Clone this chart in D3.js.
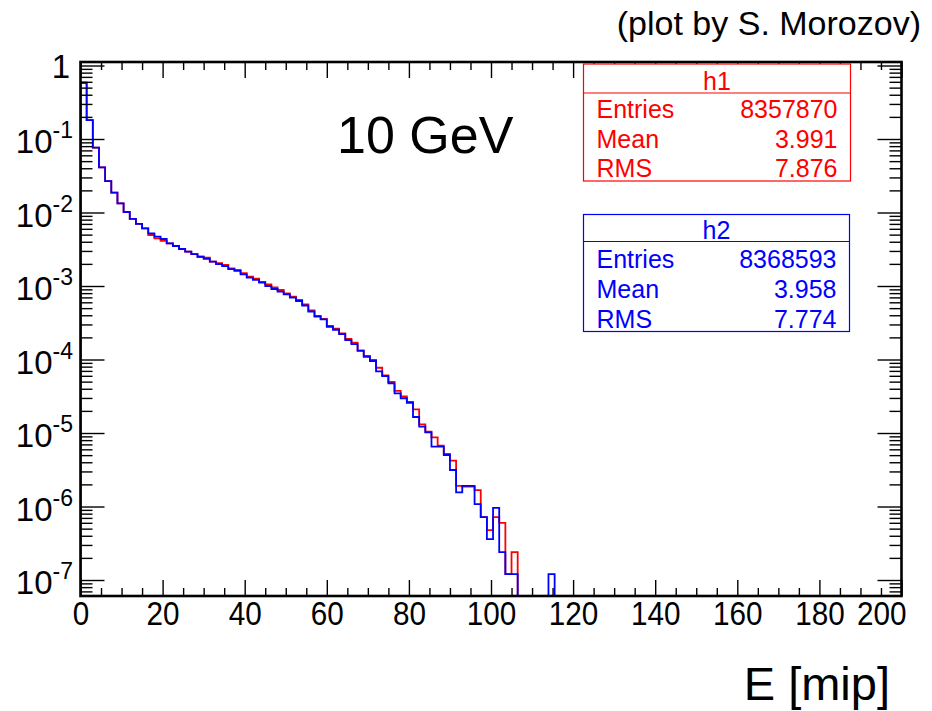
<!DOCTYPE html>
<html>
<head>
<meta charset="utf-8">
<script src="https://cdn.jsdelivr.net/npm/d3@7"></script>
<style>
  html, body { margin: 0; padding: 0; background: #fff; }
  svg { display: block; font-family: "Liberation Sans", Arial, sans-serif; }
</style>
</head>
<body>
<svg id="vis" width="932" height="711"></svg>
<script>
// bin width of both histograms (in mip), bins start at 0
const binWidth = 1.5;

// h1 (red) normalised bin contents
const h1 = [
  0.583, 0.181, 0.0761, 0.0412, 0.0268, 0.0186, 0.01334, 0.01016, 0.00821, 0.00702,
  0.00610, 0.00494, 0.00446, 0.00410, 0.00381, 0.00350, 0.00319, 0.00293, 0.00272, 0.00250,
  0.00243, 0.00214, 0.00204, 0.00193, 0.00174, 0.00165, 0.00150, 0.00134, 0.00126, 0.00114,
  0.00105, 0.000960, 0.000882, 0.000796, 0.000715, 0.000645, 0.000560, 0.000464, 0.000391, 0.000358,
  0.000286, 0.000262, 0.000226, 0.000190, 0.000169, 0.000133, 0.000112, 0.0000984, 0.0000773, 0.0000606,
  0.0000494, 0.0000375, 0.0000316, 0.0000264, 0.0000210, 0.0000131, 0.0000104, 0.00000874, 0.00000672, 0.00000518,
  0.00000420, 1.91e-6, 1.87e-6, 1.87e-6, 1.67e-6, 7.18e-7, 4.78e-7, 7.18e-7, 5.98e-7, 1.2e-7,
  2.39e-7, 0, 0, 0, 0, 0, 0
];

// h2 (blue)
const h2 = [
  0.583, 0.181, 0.0761, 0.0412, 0.0268, 0.0186, 0.01334, 0.01016, 0.00821, 0.00702,
  0.00610, 0.00521, 0.00469, 0.00436, 0.00381, 0.00350, 0.00319, 0.00293, 0.00272, 0.00250,
  0.00235, 0.00214, 0.00199, 0.00187, 0.00170, 0.00161, 0.00144, 0.00130, 0.00121, 0.00111,
  0.00100, 0.000910, 0.000837, 0.000771, 0.000693, 0.000625, 0.000543, 0.000450, 0.000385, 0.000352,
  0.000279, 0.000254, 0.000221, 0.000184, 0.000162, 0.000131, 0.000109, 0.0000954, 0.0000691, 0.0000596,
  0.0000474, 0.0000347, 0.0000297, 0.0000258, 0.0000165, 0.0000122, 0.0000102, 0.00000651, 0.00000651, 0.00000502,
  0.00000314, 1.555e-6, 1.91e-6, 1.91e-6, 1.076e-6, 7.18e-7, 3.59e-7, 9.57e-7, 2.39e-7, 1.2e-7,
  1.2e-7, 0, 0, 0, 0, 0, 1.2e-7
];

const xTicks = [0, 20, 40, 60, 80, 100, 120, 140, 160, 180, 200];
const yExponents = [0, -1, -2, -3, -4, -5, -6, -7];

const h1Stats = [["Entries", "8357870"], ["Mean", "3.991"], ["RMS", "7.876"]];
const h2Stats = [["Entries", "8368593"], ["Mean", "3.958"], ["RMS", "7.774"]];

const svg = d3.select("#vis");

const fLeft = 80.5, fRight = 901.5, fTop = 62, fBottom = 596;

const x = d3.scaleLinear().domain([0, 200]).range([fLeft, fRight]);
const y = d3.scaleLog().domain([6.06e-8, 1.116]).range([fBottom, fTop]).clamp(true);

// minor ticks
const xMinor = d3.range(0, 201, 5).filter(d => d % 20 !== 0);
const yMinor = [];
yExponents.concat([-8]).forEach(e => {
  for (let m = 2; m <= 9; m++) {
    const v = m * Math.pow(10, e);
    if (v > 6.06e-8 && v < 1.116) yMinor.push(v);
  }
});

// histogram as a step line
function histPoints(vals) {
  const pts = [[0, 0]];
  const n = Math.ceil(200 / binWidth);
  for (let i = 0; i < n; i++) {
    pts.push([i * binWidth, i < vals.length ? vals[i] : 0]);
  }
  pts.push([200, 0]);
  return pts;
}

const line = d3.line()
  .x(d => x(d[0]))
  .y(d => d[1] > 0 ? y(d[1]) : fBottom)
  .curve(d3.curveStepAfter);

svg.append("defs").append("clipPath").attr("id", "frame")
  .append("rect").attr("x", fLeft).attr("y", fTop - 2)
  .attr("width", fRight - fLeft).attr("height", fBottom - fTop + 2);

const plot = svg.append("g").attr("clip-path", "url(#frame)");

plot.append("path")
  .attr("d", line(histPoints(h1)))
  .attr("fill", "none")
  .attr("stroke", "#ff0000")
  .attr("stroke-width", 1.8);

plot.append("path")
  .attr("d", line(histPoints(h2)))
  .attr("fill", "none")
  .attr("stroke", "#0000ff")
  .attr("stroke-width", 1.8);

// axes, ticks pointing inside on all four sides
function styleAxis(g) {
  g.select(".domain").remove();
  g.selectAll(".tick line").attr("stroke", "#000").attr("stroke-width", 1.4);
}

svg.append("g").attr("transform", `translate(0,${fBottom})`)
  .call(d3.axisBottom(x).tickValues(xMinor).tickSize(-8).tickFormat(""))
  .call(styleAxis);
svg.append("g").attr("transform", `translate(0,${fBottom})`)
  .call(d3.axisBottom(x).tickValues(xTicks).tickSize(-16).tickPadding(6).tickFormat(d3.format("d")))
  .call(styleAxis)
  .call(g => g.selectAll("text")
    .attr("font-size", 33)
    .attr("font-family", "Liberation Sans, Arial, sans-serif")
    .attr("fill", "#000")
    .attr("transform", "scale(0.9,1)"))
  // the last label is pulled inside the pad, as ROOT does
  .call(g => g.selectAll(".tick").filter(d => d === 200).select("text")
    .attr("text-anchor", "end").attr("x", 5));

svg.append("g").attr("transform", `translate(0,${fTop})`)
  .call(d3.axisTop(x).tickValues(xMinor).tickSize(-8).tickFormat(""))
  .call(styleAxis);
svg.append("g").attr("transform", `translate(0,${fTop})`)
  .call(d3.axisTop(x).tickValues(xTicks).tickSize(-16).tickFormat(""))
  .call(styleAxis);

const yMajor = yExponents.map(e => Math.pow(10, e));

svg.append("g").attr("transform", `translate(${fLeft},0)`)
  .call(d3.axisLeft(y).tickValues(yMinor).tickSize(-12).tickFormat(""))
  .call(styleAxis);
svg.append("g").attr("transform", `translate(${fLeft},0)`)
  .call(d3.axisLeft(y).tickValues(yMajor).tickSize(-24).tickFormat(""))
  .call(styleAxis);
svg.append("g").attr("transform", `translate(${fRight},0)`)
  .call(d3.axisRight(y).tickValues(yMinor).tickSize(-12).tickFormat(""))
  .call(styleAxis);
svg.append("g").attr("transform", `translate(${fRight},0)`)
  .call(d3.axisRight(y).tickValues(yMajor).tickSize(-24).tickFormat(""))
  .call(styleAxis);

// frame
svg.append("rect")
  .attr("x", fLeft).attr("y", fTop)
  .attr("width", fRight - fLeft).attr("height", fBottom - fTop)
  .attr("fill", "none").attr("stroke", "#000").attr("stroke-width", 2.6);

// y labels 1, 10^-1 ...
const yLab = svg.append("g").attr("font-size", 33).attr("fill", "#000").attr("text-anchor", "end");
yExponents.forEach(e => {
  const yy = y(Math.pow(10, e));
  if (e === 0) {
    yLab.append("text").attr("x", 70).attr("y", yy + 12).text("1");
  } else {
    const t = yLab.append("text").attr("x", 73).attr("y", yy + 14);
    t.append("tspan").text("10");
    t.append("tspan").attr("dy", -15).attr("font-size", 23).text(String(e));
  }
});

// axis title
svg.append("text").attr("x", 890).attr("y", 700).attr("text-anchor", "end")
  .attr("font-size", 47).text("E [mip]");

svg.append("text").attr("x", 337).attr("y", 153)
  .attr("font-size", 52).text("10 GeV");

svg.append("text").attr("x", 921).attr("y", 35).attr("text-anchor", "end")
  .attr("font-size", 34).text("(plot by S. Morozov)");

// stat boxes
function statBox(name, rows, color, bx, by, bw, bh, head) {
  const g = svg.append("g").attr("fill", color);
  g.append("rect").attr("x", bx).attr("y", by).attr("width", bw).attr("height", bh)
    .attr("fill", "#fff").attr("stroke", color).attr("stroke-width", 1.2);
  g.append("line").attr("x1", bx).attr("x2", bx + bw).attr("y1", by + head).attr("y2", by + head)
    .attr("stroke", color).attr("stroke-width", 1.2);
  g.append("text").attr("x", bx + bw / 2).attr("y", by + head - 3).attr("text-anchor", "middle")
    .attr("font-size", 25).text(name);
  const rowH = (bh - head) / rows.length;
  rows.forEach((r, i) => {
    const yy = by + head + rowH * (i + 1) - 4;
    g.append("text").attr("x", bx + 13).attr("y", yy).attr("font-size", 25).text(r[0]);
    g.append("text").attr("x", bx + bw - 13).attr("y", yy).attr("text-anchor", "end")
      .attr("font-size", 25).text(r[1]);
  });
}

statBox("h1", h1Stats, "#ff0000", 583.5, 64, 267, 117, 29);
statBox("h2", h2Stats, "#0000ff", 583.5, 214.5, 266, 117, 27);
</script>
</body>
</html>
